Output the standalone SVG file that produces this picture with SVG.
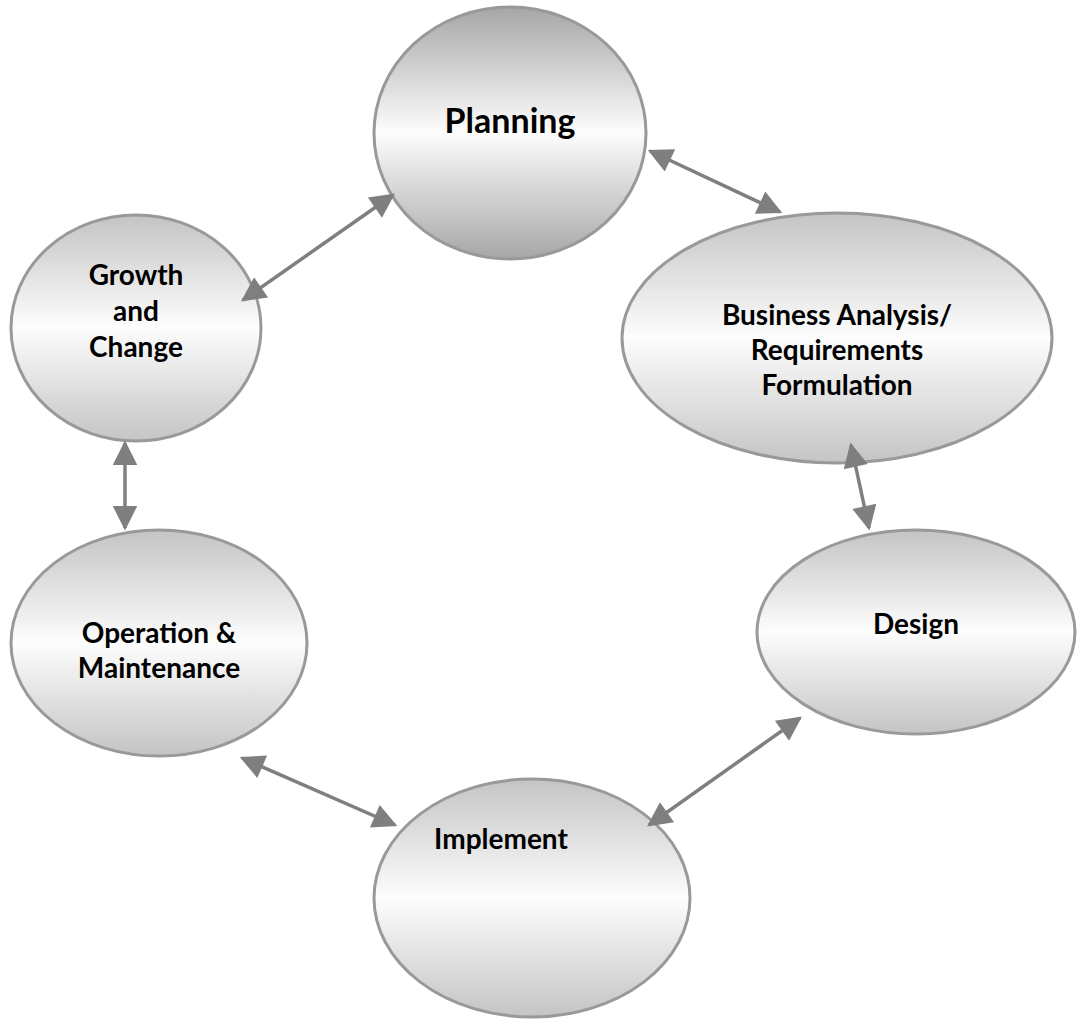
<svg xmlns="http://www.w3.org/2000/svg" width="1079" height="1019" viewBox="0 0 1079 1019">
<style>
.node{stroke:#999;stroke-width:3;fill:url(#g)}
.dark{fill:url(#gd)}
.lbl{font-family:Lato,"Liberation Sans",sans-serif;font-weight:bold;font-size:28px;fill:#000;text-anchor:middle}
.big{font-size:34px}
.con{stroke:#7f7f7f;stroke-width:3.5;fill:none;marker-start:url(#ah);marker-end:url(#ah)}
</style>
<defs>
<linearGradient id="g" x1="0" y1="0" x2="0" y2="1">
<stop offset="0" stop-color="#c4c4c4"/><stop offset="0.5" stop-color="#fdfdfd"/><stop offset="1" stop-color="#c4c4c4"/>
</linearGradient>
<linearGradient id="gd" x1="0" y1="0" x2="0" y2="1">
<stop offset="0" stop-color="#a6a6a6"/><stop offset="0.5" stop-color="#fdfdfd"/><stop offset="1" stop-color="#a6a6a6"/>
</linearGradient>
<marker id="ah" viewBox="0 0 10 10" refX="9" refY="5" markerWidth="8" markerHeight="7" markerUnits="strokeWidth" orient="auto-start-reverse">
<path d="M0,0 L10,5 L0,10 z" fill="#7f7f7f"/>
</marker>
</defs>
<g id="planning"><ellipse class="node dark" cx="510" cy="133" rx="136" ry="126"/><text class="lbl big" x="510" y="133">Planning</text></g>
<g id="growth"><ellipse class="node" cx="136" cy="328" rx="125" ry="113"/><text class="lbl" x="136" y="285">Growth</text><text class="lbl" x="136" y="321">and</text><text class="lbl" x="136" y="357">Change</text></g>
<g id="business"><ellipse class="node" cx="837" cy="338" rx="215" ry="125"/><text class="lbl" x="837" y="325">Business Analysis/</text><text class="lbl" x="837" y="360">Requirements</text><text class="lbl" x="837" y="395">Formulation</text></g>
<g id="design"><ellipse class="node" cx="916" cy="632" rx="159" ry="102"/><text class="lbl" x="916" y="634">Design</text></g>
<g id="operation"><ellipse class="node" cx="159" cy="643" rx="148" ry="113"/><text class="lbl" x="159" y="643">Operation &amp;</text><text class="lbl" x="159" y="678">Maintenance</text></g>
<g id="implement"><ellipse class="node" cx="532" cy="898" rx="158" ry="119"/><text class="lbl" x="501" y="849">Implement</text></g>
<g id="connectors">
<line class="con" x1="650" y1="151" x2="780" y2="212"/>
<line class="con" x1="243" y1="300" x2="393" y2="195"/>
<line class="con" x1="851" y1="445" x2="869" y2="528"/>
<line class="con" x1="125" y1="443" x2="125" y2="528"/>
<line class="con" x1="242" y1="758" x2="395" y2="825"/>
<line class="con" x1="649" y1="825" x2="800" y2="718"/>
</g>
</svg>
